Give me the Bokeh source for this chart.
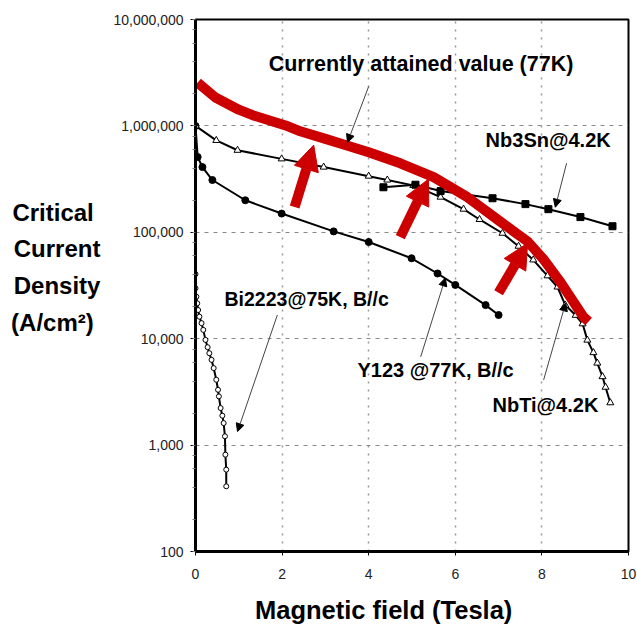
from bokeh.plotting import figure
from bokeh.models import (Range1d, FixedTicker, ColumnDataSource, Arrow, NormalHead, Label, LogTicker)
from bokeh.embed import file_html
from bokeh.resources import INLINE

# ---------------- data ----------------
xticks = [0, 2, 4, 6, 8, 10]
yticks = [100, 1000, 10000, 100000, 1000000, 10000000]
ytick_labels = ["100", "1,000", "10,000", "100,000", "1,000,000", "10,000,000"]

# Currently attained value (77K) - thick red curve
red_x = [0.05, 0.46, 1.0, 1.32, 2.08, 2.42, 3.0, 3.46, 4.0, 4.73, 5.5, 6.28, 7.04, 7.67, 8.05, 8.43, 8.96, 9.08]
red_y = [2.55e6, 1.85e6, 1.42e6, 1.26e6, 1.01e6, 8.9e5, 7.55e5, 6.6e5, 5.65e5, 4.45e5, 3.3e5, 2.14e5, 1.26e5, 8.2e4, 5.5e4, 3.4e4, 1.6e4, 1.45e4]

# NbTi @ 4.2K (open triangles)
nbti_x = [0.0, 0.48, 0.97, 1.99, 2.96, 4.0, 4.43, 5.03, 5.66, 6.19, 6.56, 7.09, 7.46, 7.8, 8.13, 8.36, 8.54, 8.78, 8.94, 9.05, 9.19, 9.28, 9.40, 9.47, 9.58]
nbti_y = [1.0e6, 7.3e5, 5.9e5, 4.9e5, 4.1e5, 3.37e5, 3.1e5, 2.76e5, 2.14e5, 1.65e5, 1.32e5, 9.8e4, 7.4e4, 5.5e4, 3.9e4, 3.06e4, 2.07e4, 1.66e4, 1.38e4, 9.7e3, 7.4e3, 5.9e3, 4.4e3, 3.5e3, 2.5e3]

# Nb3Sn @ 4.2K (filled squares)
nb3sn_x = [4.34, 5.08, 5.66, 6.86, 7.62, 8.15, 8.89, 9.63]
nb3sn_y = [2.65e5, 2.8e5, 2.44e5, 2.09e5, 1.84e5, 1.65e5, 1.39e5, 1.14e5]

# Y123 @ 77K, B//c (filled circles)
y123_x = [0.0, 0.05, 0.16, 0.39, 1.15, 1.99, 3.19, 4.0, 4.99, 5.59, 6.0, 6.7, 7.0]
y123_y = [1.0e6, 5.1e5, 4.1e5, 3.1e5, 2.0e5, 1.5e5, 1.02e5, 8.1e4, 5.7e4, 4.1e4, 3.2e4, 2.07e4, 1.67e4]

# Bi2223 @ 75K, B//c (open circles)
bi_x = [0.0, 0.0, 0.02, 0.04, 0.06, 0.09, 0.14, 0.18, 0.23, 0.28, 0.32, 0.37, 0.42, 0.48, 0.52, 0.54, 0.58, 0.62, 0.65, 0.68, 0.69, 0.71, 0.71]
bi_y = [40500, 29800, 24800, 21500, 18600, 16100, 14000, 12100, 9750, 8320, 7310, 6330, 5290, 4110, 3310, 2870, 2230, 1890, 1610, 1210, 813, 588, 410]

# red block arrows (tail -> tip)
rarrow_x0 = [2.29, 4.73, 7.0]
rarrow_y0 = [1.73e5, 9.0e4, 2.7e4]
rarrow_x1 = [2.73, 5.38, 7.67]
rarrow_y1 = [6.6e5, 3.16e5, 7.9e4]

# thin black pointer arrows (tail -> tip)
barrow_x0 = [4.0, 8.57, 5.2, 8.04, 1.89]
barrow_y0 = [2.35e6, 4.46e5, 6.75e3, 4.1e3, 1.67e4]
barrow_x1 = [3.51, 8.31, 5.77, 8.55, 0.97]
barrow_y1 = [7.0e5, 1.72e5, 3.72e4, 2.17e4, 1.34e3]

# labels
label_texts = ["Currently attained value (77K)", "Nb3Sn@4.2K", "Y123 @77K, B//c", "NbTi@4.2K", "Bi2223@75K, B//c"]
label_x = [1.69, 6.70, 3.74, 6.86, 0.67]
label_y = [3.78e6, 7.33e5, 5.1e3, 2.4e3, 2.36e4]

NB = "\u00a0"
ylabel_text = "Critical" + NB + "\nCurrent\nDensity\n(A/cm\u00b2)" + NB + "\n" + NB
xlabel_text = "Magnetic field (Tesla)" + NB * 8

# ---------------- figure ----------------
FONT = "Liberation Sans"
RED = "#cc0000"

p = figure(width=637, height=626, x_range=Range1d(0, 10), y_range=Range1d(100, 1e7),
           y_axis_type="log", output_backend="svg", toolbar_location=None,
           min_border_left=195, min_border_right=9, min_border_top=19, min_border_bottom=74)
p.outline_line_color = "black"
p.outline_line_width = 2
p.background_fill_color = "white"
p.border_fill_color = "white"

p.xaxis.ticker = FixedTicker(ticks=xticks)
p.xaxis.axis_line_width = 3
p.xaxis.major_tick_out = 4
p.xaxis.major_tick_in = 0
p.xaxis.minor_tick_out = 0
p.xaxis.major_label_standoff = 13
p.xaxis.major_label_text_font = FONT
p.xaxis.major_label_text_font_size = "14px"
p.xaxis.major_label_text_color = "#222222"
p.xaxis.axis_label = xlabel_text
p.xaxis.axis_label_text_font = FONT
p.xaxis.axis_label_text_font_style = "bold"
p.xaxis.axis_label_text_font_size = "25.5px"
p.xaxis.axis_label_text_color = "black"
p.xaxis.axis_label_text_line_height = 1.0
p.xaxis.axis_label_standoff = 14

p.yaxis.ticker = LogTicker(desired_num_ticks=6)
p.yaxis.major_label_overrides = {v: t for v, t in zip(yticks, ytick_labels)}
p.yaxis.axis_line_width = 3
p.yaxis.major_tick_out = 5
p.yaxis.major_tick_in = 0
p.yaxis.minor_tick_out = 3
p.yaxis.minor_tick_in = 0
p.yaxis.minor_tick_line_color = "#777777"
p.yaxis.major_label_standoff = 7
p.yaxis.major_label_text_font = FONT
p.yaxis.major_label_text_font_size = "14px"
p.yaxis.major_label_text_color = "#222222"
p.yaxis.axis_label = ylabel_text
p.yaxis.axis_label_orientation = "horizontal"
p.yaxis.axis_label_text_font = FONT
p.yaxis.axis_label_text_font_style = "bold"
p.yaxis.axis_label_text_font_size = "24px"
p.yaxis.axis_label_text_color = "black"
p.yaxis.axis_label_text_align = "left"
p.yaxis.axis_label_text_line_height = 1.36
p.yaxis.axis_label_standoff = 10

p.xgrid.grid_line_color = "#999999"
p.xgrid.grid_line_dash = "2 6"
p.xgrid.grid_line_width = 1.5
p.ygrid.grid_line_color = "#888888"
p.ygrid.grid_line_dash = "4 5"
p.ygrid.grid_line_width = 1

# curves
p.line(bi_x, bi_y, line_color="black", line_width=2)
p.scatter(bi_x, bi_y, marker="circle", size=5, fill_color="white", line_color="black", line_width=1)

p.line(y123_x, y123_y, line_color="black", line_width=2)
p.scatter(y123_x, y123_y, marker="circle", size=7, fill_color="black", line_color="black")

p.line(nbti_x, nbti_y, line_color="black", line_width=2)
p.scatter(nbti_x, nbti_y, marker="triangle", size=7, fill_color="white", line_color="black", line_width=1)

p.line(nb3sn_x, nb3sn_y, line_color="black", line_width=2)
p.scatter(nb3sn_x, nb3sn_y, marker="square", size=7, fill_color="black", line_color="black")

p.line(red_x, red_y, line_color=RED, line_width=10, line_join="round")

# red arrows
rsrc = ColumnDataSource(dict(x0=rarrow_x0, y0=rarrow_y0, x1=rarrow_x1, y1=rarrow_y1))
p.add_layout(Arrow(source=rsrc, x_start="x0", y_start="y0", x_end="x1", y_end="y1",
                   line_color=RED, line_width=10,
                   end=NormalHead(size=25, fill_color=RED, line_color=RED, line_width=1)))

# thin black pointers
bsrc = ColumnDataSource(dict(x0=barrow_x0, y0=barrow_y0, x1=barrow_x1, y1=barrow_y1))
p.add_layout(Arrow(source=bsrc, x_start="x0", y_start="y0", x_end="x1", y_end="y1",
                   line_color="#444444", line_width=1,
                   end=NormalHead(size=8, fill_color="black", line_color="black", line_width=1)))

# labels
sizes = ["21.5px", "20px", "20px", "20px", "19.5px"]
for t, lx, ly, fs in zip(label_texts, label_x, label_y, sizes):
    p.add_layout(Label(x=lx, y=ly, text=t, text_font=FONT, text_font_style="bold",
                       text_font_size=fs, text_align="left", text_baseline="middle",
                       text_color="black"))

open("out.html", "w").write(file_html(p, INLINE))
